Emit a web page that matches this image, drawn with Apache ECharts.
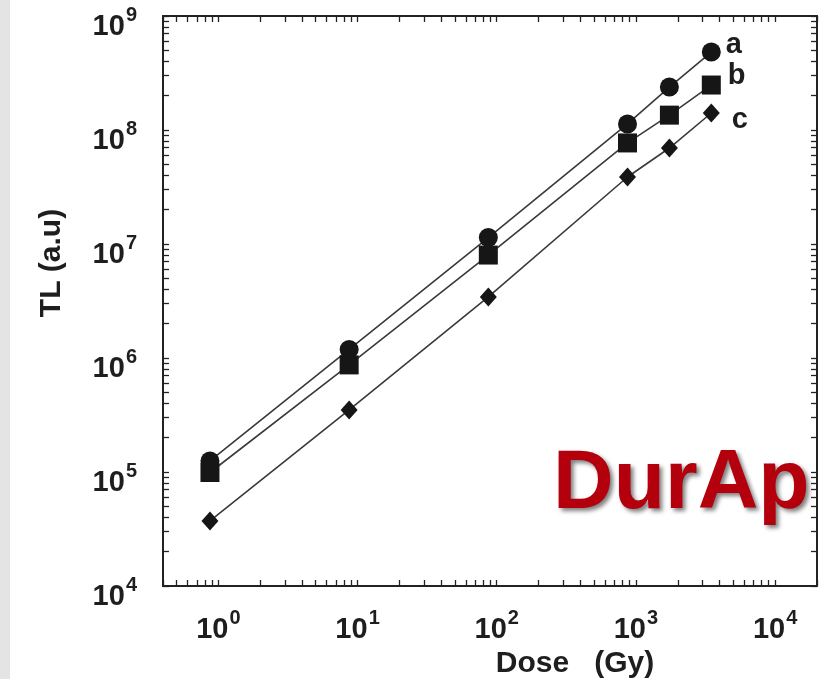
<!DOCTYPE html>
<html>
<head>
<meta charset="utf-8">
<script src="https://cdn.jsdelivr.net/npm/echarts@6/dist/echarts.min.js"></script>
<style>
html,body{margin:0;padding:0;background:#fff;}
#chart{width:821px;height:679px;}
</style>
</head>
<body>
<div id="chart"></div>
<script>
// ---- data ----
var doseGy = [0.87, 8.7, 87, 870, 1740, 3480];
var seriesA = [1.25e5, 1.19e6, 1.14e7, 1.13e8, 2.38e8, 4.83e8];
var seriesB = [9.9e4, 8.7e5, 8.0e6, 7.7e7, 1.35e8, 2.48e8];
var seriesC = [3.72e4, 3.5e5, 3.43e6, 3.87e7, 6.95e7, 1.41e8];
var seriesNames = ['a', 'b', 'c'];
var xDecades = [0, 1, 2, 3, 4];      // tick labels 10^0 .. 10^4
var yDecades = [4, 5, 6, 7, 8, 9];   // tick labels 10^4 .. 10^9
var xRange = [0.4, 2e4];
var yRange = [1e4, 1e9];

var FONT = '"Liberation Sans", Arial, Helvetica, sans-serif';
var INK = '#1e1e1e';

function lg(v){ return Math.log10(v); }
function logTicks(lo, hi){
  var out = [];
  for (var d = Math.floor(lg(lo)) - 1; d <= Math.ceil(lg(hi)); d++) {
    for (var k = 1; k <= 9; k++) {
      var v = lg(k * Math.pow(10, d));
      if (v >= lg(lo) - 1e-9 && v <= lg(hi) + 1e-9) out.push(v);
    }
  }
  return out;
}
function pairs(ys, name, labelCfg){
  return doseGy.map(function(x, i){
    var item = { value: [lg(x), lg(ys[i])] };
    if (i === doseGy.length - 1) {
      item.label = Object.assign({
        show: true, position: 'right', formatter: name,
        fontSize: 29, fontWeight: 'bold', fontFamily: FONT, color: INK
      }, labelCfg);
    }
    return item;
  });
}
function makeRich(bottomPad){
  return {
    b: { fontSize: 29, fontWeight: 'bold', fontFamily: FONT, color: INK, lineHeight: 36, verticalAlign: 'bottom', padding: [0,0,bottomPad,0] },
    s: { fontSize: 20, fontWeight: 'bold', fontFamily: FONT, color: INK, lineHeight: 36, verticalAlign: 'top', padding: [0,0,0,1] }
  };
}
function powLabel(v){ return '{b|10}{s|' + Math.round(v) + '}'; }

var xTickVals = logTicks(xRange[0], xRange[1]);
var yTickVals = logTicks(yRange[0], yRange[1]);

function xAxisCfg(pos, showLabel){
  return {
    type: 'value', position: pos, min: lg(xRange[0]), max: lg(xRange[1]),
    axisLine: { show: true, onZero: false, lineStyle: { color: '#222', width: 2 } },
    axisTick: { show: true, inside: true, length: 6, customValues: xTickVals, lineStyle: { color: '#222', width: 1.3 } },
    axisLabel: { show: showLabel, customValues: xDecades, formatter: powLabel, rich: makeRich(0), margin: 22 },
    splitLine: { show: false },
    name: showLabel ? 'Dose   (Gy)' : '',
    nameLocation: 'middle', nameGap: 62,
    nameTextStyle: { fontSize: 30, fontWeight: 'bold', fontFamily: FONT, color: INK, padding: [0,0,0,170] }
  };
}
function yAxisCfg(pos, showLabel){
  return {
    type: 'value', position: pos, min: lg(yRange[0]), max: lg(yRange[1]),
    axisLine: { show: true, onZero: false, lineStyle: { color: '#222', width: 2 } },
    axisTick: { show: true, inside: true, length: 6, customValues: yTickVals, lineStyle: { color: '#222', width: 1.3 } },
    axisLabel: { show: showLabel, customValues: yDecades, formatter: powLabel, rich: makeRich(0), margin: 26, padding: [14,0,0,0] },
    splitLine: { show: false },
    name: showLabel ? 'TL (a.u)' : '',
    nameLocation: 'middle', nameGap: 96, nameRotate: 90,
    nameTextStyle: { fontSize: 30, fontWeight: 'bold', fontFamily: FONT, color: INK, padding: [0,0,0,76] }
  };
}

var lineStyle = { color: '#3a3a3a', width: 1.6 };
var chart = echarts.init(document.getElementById('chart'), null, { renderer: 'canvas' });
chart.setOption({
  animation: false,
  backgroundColor: '#ffffff',
  grid: { left: 163, right: 4, top: 16, bottom: 93, containLabel: false, outerBoundsMode: 'none' },
  xAxis: [ xAxisCfg('bottom', true), xAxisCfg('top', false) ],
  yAxis: [ yAxisCfg('left', true), yAxisCfg('right', false) ],
  graphic: [
    { type: 'rect', left: 0, top: 0, shape: { width: 10, height: 679 }, style: { fill: '#e4e4e4' }, silent: true, z: -10 },
    { type: 'text', x: 553, y: 485, z: 100,
      style: { text: 'DurAp', font: 'bold 84px ' + FONT, fill: '#b3000c', verticalAlign: 'middle', align: 'left',
               textShadowColor: 'rgba(0,0,0,0.5)', textShadowBlur: 4, textShadowOffsetX: 3, textShadowOffsetY: 3 } }
  ],
  series: [
    { type: 'line', name: seriesNames[0], data: pairs(seriesA, 'a', { distance: 5, offset: [0, -7] }),
      symbol: 'circle', symbolSize: 19, itemStyle: { color: '#161616' }, lineStyle: lineStyle, z: 3 },
    { type: 'line', name: seriesNames[1], data: pairs(seriesB, 'b', { distance: 7, offset: [0, -9] }),
      symbol: 'rect', symbolSize: 19, itemStyle: { color: '#161616' }, lineStyle: lineStyle, z: 4 },
    { type: 'line', name: seriesNames[2], data: pairs(seriesC, 'c', { distance: 12, offset: [0, 7] }),
      symbol: 'diamond', symbolSize: [17, 19], itemStyle: { color: '#161616' }, lineStyle: lineStyle, z: 5 }
  ]
});
</script>
</body>
</html>
